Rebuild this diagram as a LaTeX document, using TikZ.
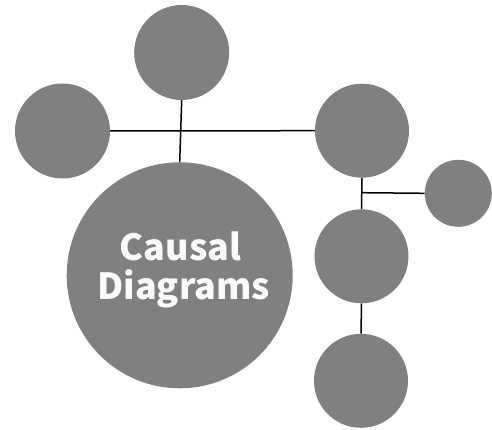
\documentclass[tikz,border=0pt]{standalone}
\usepackage{fontspec}
\newfontfamily\labelfont{Noto Sans CJK JP}
\definecolor{bubble}{RGB}{128,128,128}
\definecolor{labeltext}{RGB}{250,250,250}
\tikzset{
  bubble/.style={circle, fill=bubble, draw=none, inner sep=0pt, minimum size=#1},
  link/.style={draw=black, line width=1.5pt},
  bigtext/.style={text=labeltext, font=\labelfont\bfseries\fontsize{36}{40}\selectfont, inner sep=0pt, anchor=base}
}
\begin{document}
\begin{tikzpicture}[x=1pt,y=1pt]
\useasboundingbox (0,0) rectangle (492,429);
\node[bubble=95pt] (top) at (181.7,376.5) {};
\node[bubble=95pt] (left) at (62.5,298) {};
\node[bubble=226pt] (main) at (179.7,153.7) {};
\node[bubble=94pt] (r1) at (362,298.3) {};
\node[bubble=67pt] (small) at (458.3,235.7) {};
\node[bubble=94pt] (r2) at (361.5,172.7) {};
\node[bubble=94pt] (r3) at (361,48.2) {};
\node[bigtext] (t1) at (180.5,169) {Causal};
\node[bigtext] (t2) at (183.8,130) {Diagrams};
\coordinate (vx) at (361.7,236.3);
\draw[link] (left.east) -- (r1.west);
\draw[link] (top.south) -- (main.north);
\draw[link] (r1.south) -- (r2.north);
\draw[link] (vx) -- (small.west);
\draw[link] (r2.south) -- (r3.north);
\end{tikzpicture}
\end{document}
